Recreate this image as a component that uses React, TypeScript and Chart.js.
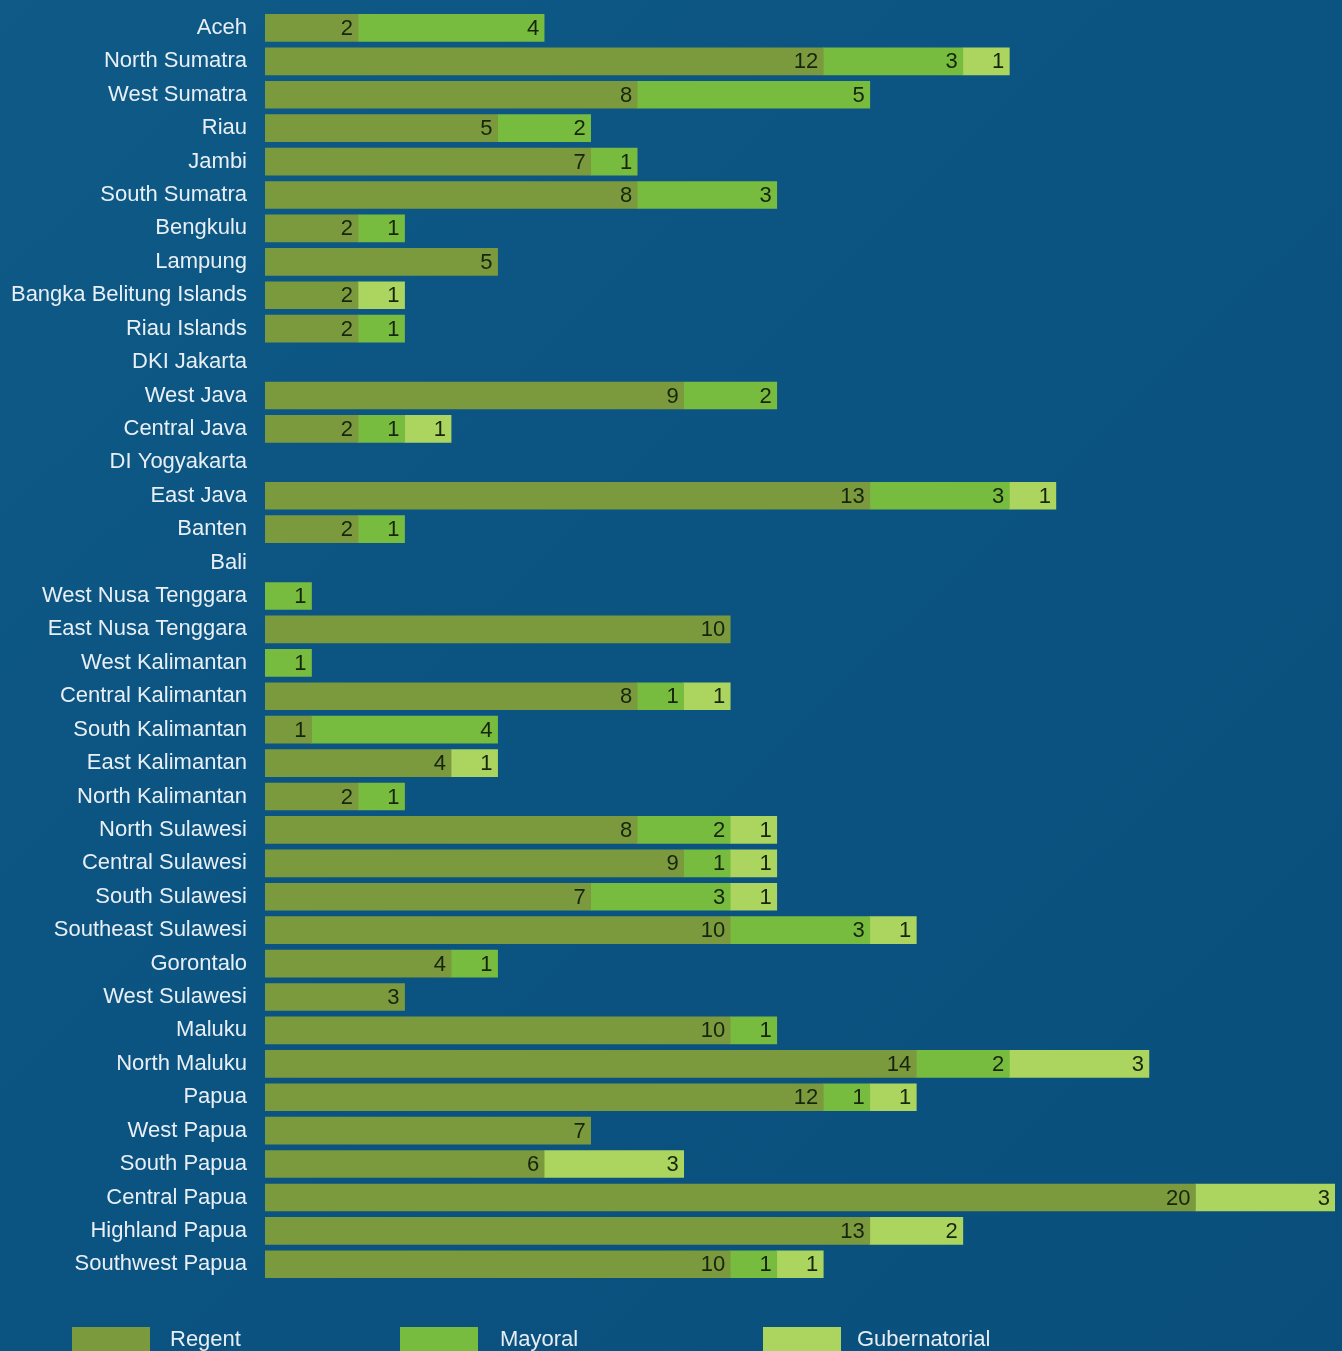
import React, { useEffect, useRef } from "react";
import { Chart, registerables } from "chart.js";

Chart.register(...registerables);

const provinces = [
  "Aceh", "North Sumatra", "West Sumatra", "Riau", "Jambi", "South Sumatra", "Bengkulu", "Lampung",
  "Bangka Belitung Islands", "Riau Islands", "DKI Jakarta", "West Java", "Central Java", "DI Yogyakarta",
  "East Java", "Banten", "Bali", "West Nusa Tenggara", "East Nusa Tenggara", "West Kalimantan",
  "Central Kalimantan", "South Kalimantan", "East Kalimantan", "North Kalimantan", "North Sulawesi",
  "Central Sulawesi", "South Sulawesi", "Southeast Sulawesi", "Gorontalo", "West Sulawesi", "Maluku",
  "North Maluku", "Papua", "West Papua", "South Papua", "Central Papua", "Highland Papua", "Southwest Papua",
];

const regent = [2, 12, 8, 5, 7, 8, 2, 5, 2, 2, 0, 9, 2, 0, 13, 2, 0, 0, 10, 0, 8, 1, 4, 2, 8, 9, 7, 10, 4, 3, 10, 14, 12, 7, 6, 20, 13, 10];
const mayoral = [4, 3, 5, 2, 1, 3, 1, 0, 0, 1, 0, 2, 1, 0, 3, 1, 0, 1, 0, 1, 1, 4, 0, 1, 2, 1, 3, 3, 1, 0, 1, 2, 1, 0, 0, 0, 0, 1];
const gubernatorial = [0, 1, 0, 0, 0, 0, 0, 0, 1, 0, 0, 0, 1, 0, 1, 0, 0, 0, 0, 0, 1, 0, 1, 0, 1, 1, 1, 1, 0, 0, 0, 3, 1, 0, 3, 3, 2, 1];

const seriesNames = ["Regent", "Mayoral", "Gubernatorial"];
const seriesColors = ["#7b9a3d", "#77bb3f", "#abd55e"];

const W = 1342;
const H = 1351;
const SHIFT = 20;

export default function App() {
  const ref = useRef<HTMLCanvasElement | null>(null);

  useEffect(() => {
    if (!ref.current) return;

    const bgPlugin = {
      id: "bg",
      beforeDraw(chart: any) {
        const { ctx, width, height } = chart;
        ctx.save();
        const g = ctx.createLinearGradient(0, 0, width, height);
        g.addColorStop(0, "#0f5a86");
        g.addColorStop(0.5, "#0b5381");
        g.addColorStop(1, "#0a4f7c");
        ctx.fillStyle = g;
        ctx.fillRect(0, 0, width, height);
        ctx.restore();
      },
    };

    const valuePlugin = {
      id: "values",
      afterDatasetsDraw(chart: any) {
        const { ctx } = chart;
        ctx.save();
        ctx.font = "22px 'Liberation Sans', Arial, sans-serif";
        ctx.fillStyle = "#18250d";
        ctx.textAlign = "right";
        ctx.textBaseline = "middle";
        chart.data.datasets.forEach((ds: any, i: number) => {
          const meta = chart.getDatasetMeta(i);
          meta.data.forEach((bar: any, j: number) => {
            const v = ds.data[j];
            if (!v) return;
            ctx.fillText(String(v), bar.x - 5, bar.y + 1);
          });
        });
        ctx.restore();
      },
    };

    const legendPlugin = {
      id: "customLegend",
      afterDraw(chart: any) {
        const { ctx } = chart;
        const items = [
          { box: 72, text: 170 },
          { box: 400, text: 500 },
          { box: 763, text: 857 },
        ];
        ctx.save();
        ctx.font = "22px 'Liberation Sans', Arial, sans-serif";
        ctx.textAlign = "left";
        ctx.textBaseline = "middle";
        items.forEach((it, i) => {
          ctx.fillStyle = seriesColors[i];
          ctx.fillRect(it.box, 1327 + SHIFT, 78, 30);
          ctx.fillStyle = "#e6eef4";
          ctx.fillText(seriesNames[i], it.text, 1340 + SHIFT);
        });
        ctx.restore();
      },
    };

    const chart = new Chart(ref.current, {
      type: "bar",
      data: {
        labels: provinces,
        datasets: [regent, mayoral, gubernatorial].map((d, i) => ({
          label: seriesNames[i],
          data: d.map((v) => (v ? v : null)),
          backgroundColor: seriesColors[i],
          borderWidth: 0,
          barThickness: 27,
        })),
      },
      options: {
        indexAxis: "y",
        responsive: false,
        animation: false,
        devicePixelRatio: 1,
        layout: { padding: { top: 0, bottom: 70, right: 7, left: 0 } },
        plugins: {
          legend: { display: false },
          tooltip: { enabled: false },
        },
        scales: {
          x: {
            stacked: true,
            min: 0,
            max: 23,
            display: false,
          },
          y: {
            stacked: true,
            grid: { display: false, drawTicks: false },
            border: { display: false },
            afterFit(scale: any) {
              scale.width = 265;
            },
            ticks: {
              color: "#e8eff5",
              padding: 18,
              font: { size: 22, family: "'Liberation Sans', Arial, sans-serif" },
              autoSkip: false,
            },
          },
        },
      },
      plugins: [bgPlugin, valuePlugin, legendPlugin],
    });

    return () => chart.destroy();
  }, []);

  return (
    <div style={{ position: "absolute", left: 0, top: 0, width: W, height: H, overflow: "hidden", background: "#0b5381" }}>
      <canvas
        ref={ref}
        width={W}
        height={H + SHIFT}
        style={{ display: "block", width: W, height: H + SHIFT, marginTop: -SHIFT }}
      />
    </div>
  );
}
